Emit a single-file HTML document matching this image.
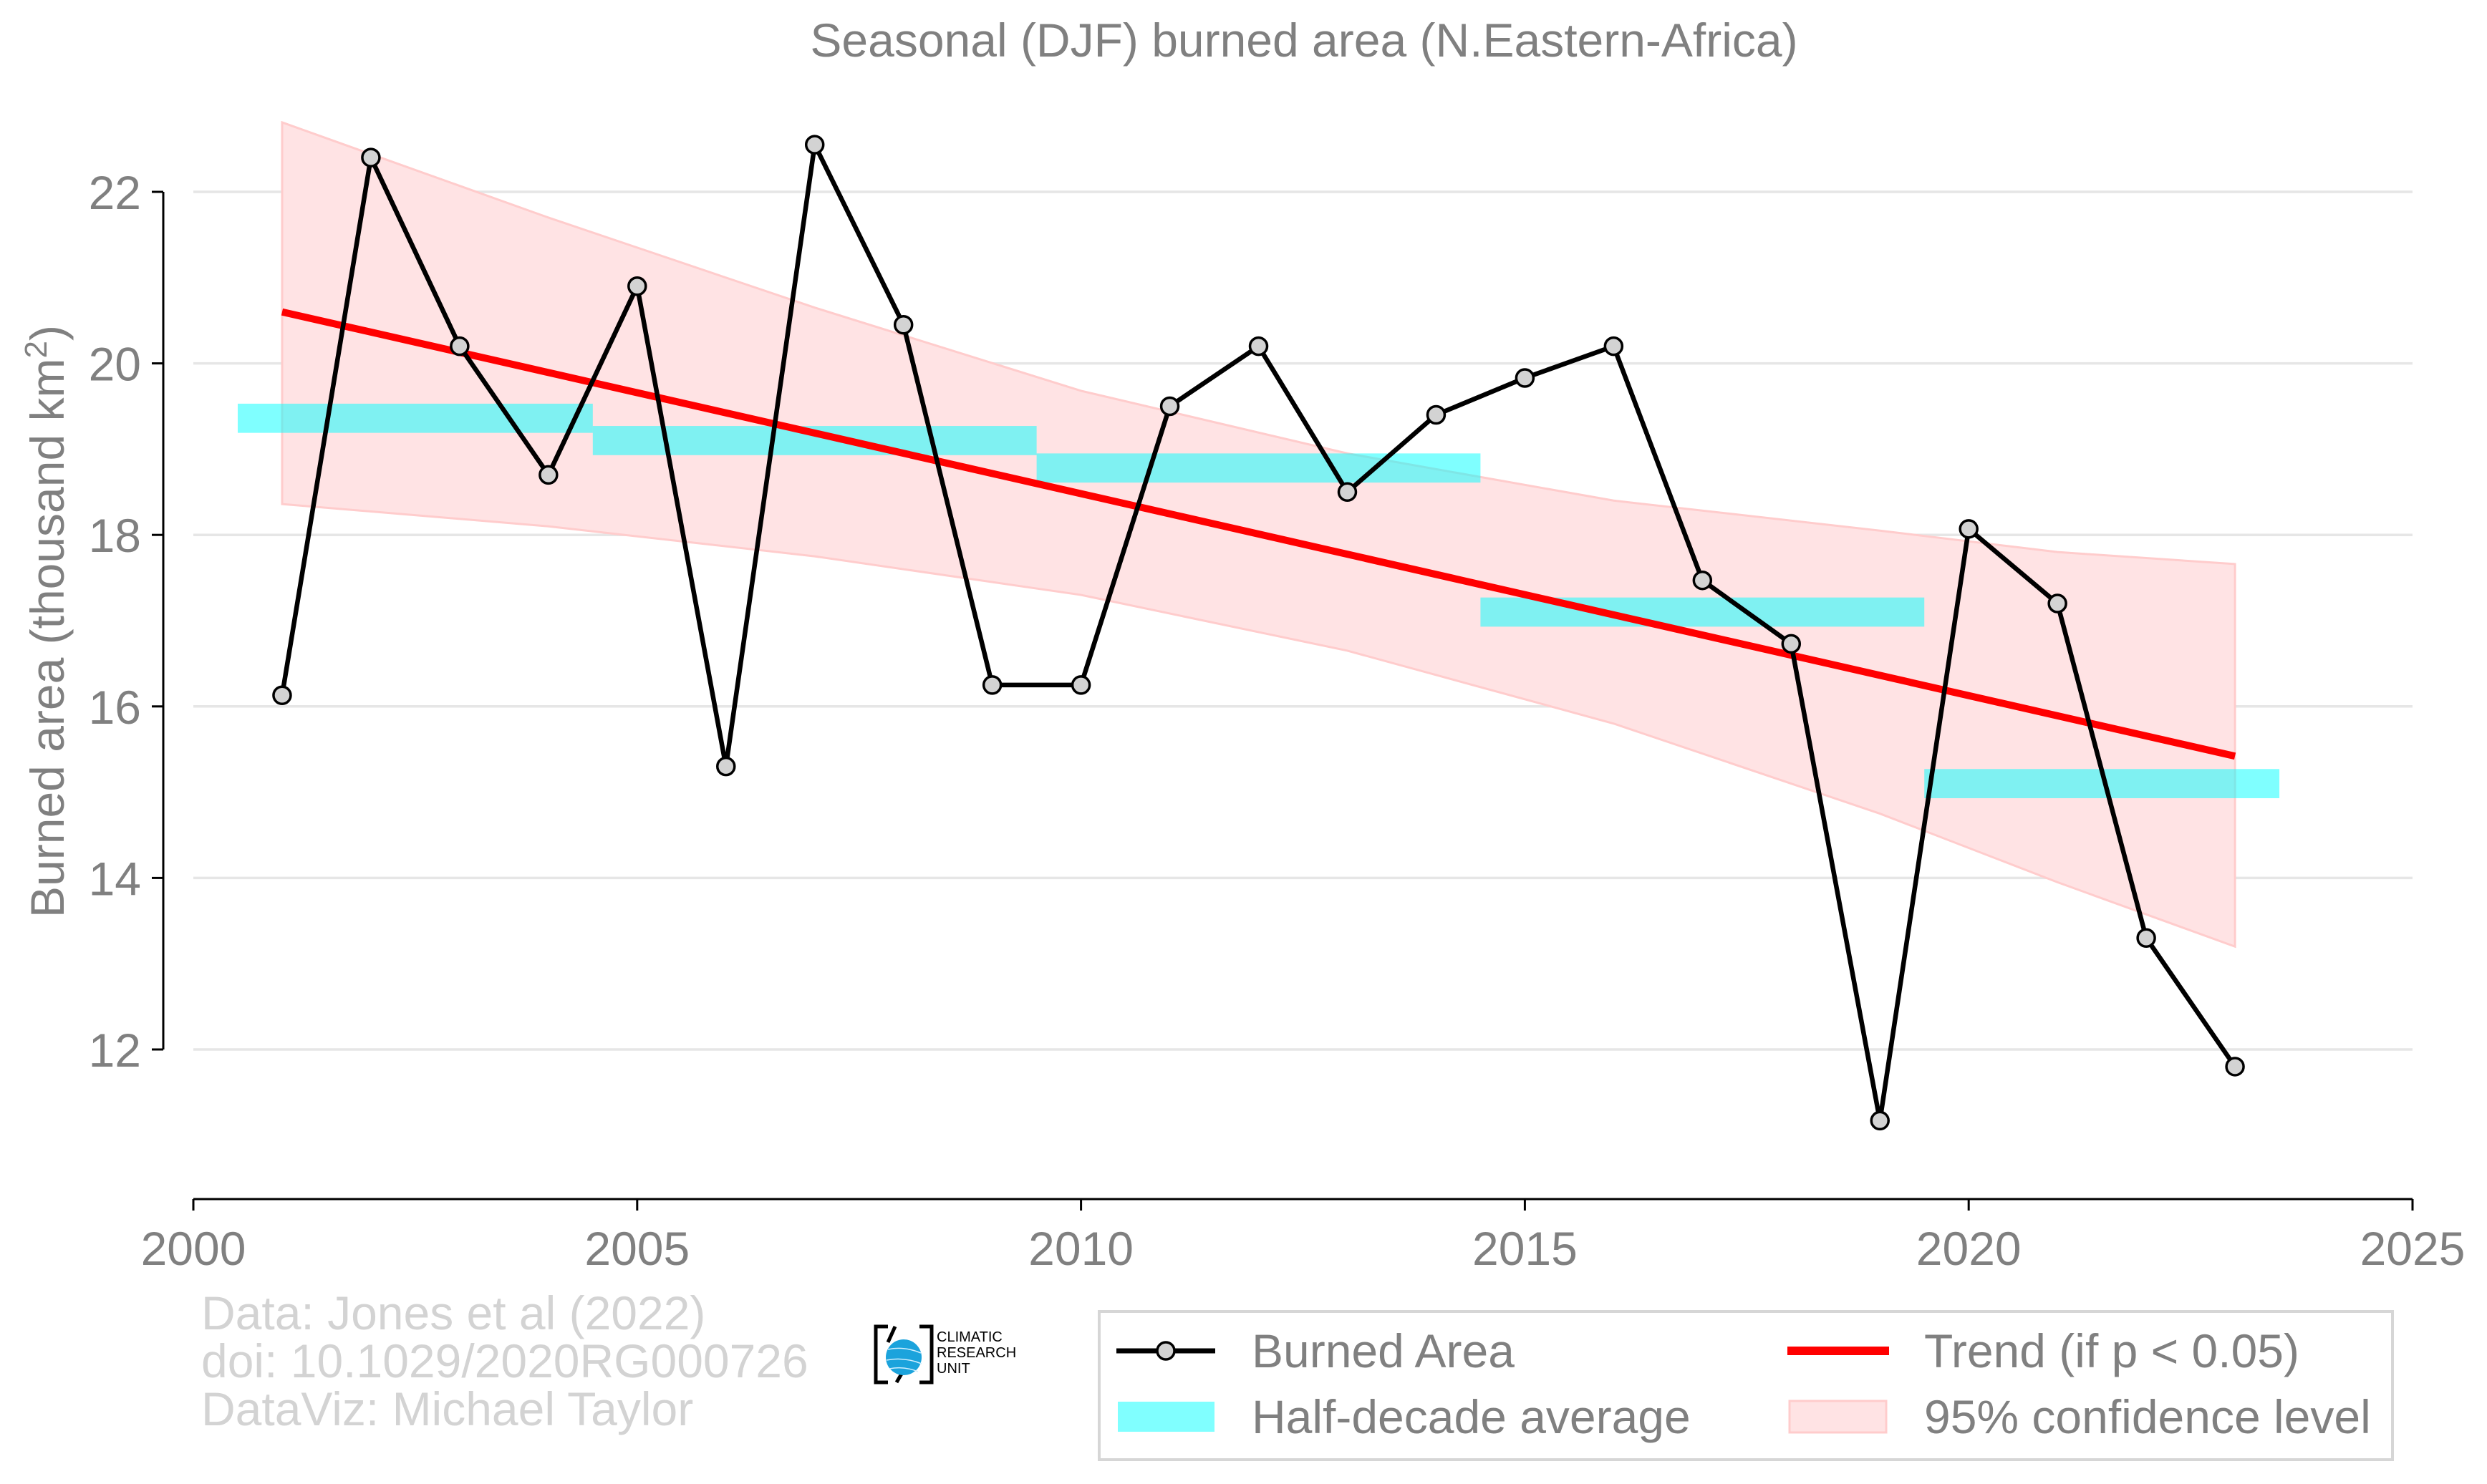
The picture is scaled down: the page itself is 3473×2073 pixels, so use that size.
<!DOCTYPE html>
<html><head><meta charset="utf-8"><style>
html,body{margin:0;padding:0;background:#fff;}
svg{display:block;font-family:"Liberation Sans",Arial,sans-serif;}
</style></head><body>
<svg id="chart" width="3473" height="2073" viewBox="0 0 3473 2073" xmlns="http://www.w3.org/2000/svg">
<rect width="3473" height="2073" fill="#fff"/>
<text x="1821" y="79" font-size="66" fill="#808080" text-anchor="middle">Seasonal (DJF) burned area (N.Eastern-Africa)</text>
<g id="grid"></g>
<g id="ci"></g>
<g id="hd"></g>
<g id="trend"></g>
<g id="series"></g>
<g id="axes"></g>
<text transform="translate(89,868) rotate(-90)" font-size="66" fill="#808080" text-anchor="middle">Burned area (thousand km<tspan font-size="44" dy="-24">2</tspan><tspan dy="24">)</tspan></text>
<g font-size="66" fill="#d3d3d3">
<text x="281" y="1857">Data: Jones et al (2022)</text>
<text x="281" y="1924">doi: 10.1029/2020RG000726</text>
<text x="281" y="1991">DataViz: Michael Taylor</text>
</g>
<g>
<path d="M1240 1853 H1223 V1931 H1240 M1284 1853 H1301 V1931 H1284" fill="none" stroke="#000" stroke-width="5"/>
<line x1="1250" y1="1853" x2="1240" y2="1875" stroke="#000" stroke-width="5"/>
<line x1="1262" y1="1914" x2="1252" y2="1931" stroke="#000" stroke-width="5"/>
<circle cx="1262" cy="1896" r="25" fill="#1ba3dc"/>
<path d="M1240 1885 Q1262 1880 1286 1890 M1238 1900 Q1262 1895 1287 1905 M1242 1912 Q1262 1908 1282 1916" fill="none" stroke="#cfefff" stroke-width="1.5"/>
<text x="1308" y="1874" font-size="20" fill="#000">CLIMATIC</text>
<text x="1308" y="1896" font-size="20" fill="#000">RESEARCH</text>
<text x="1308" y="1918" font-size="20" fill="#000">UNIT</text>
</g>
<g>
<rect x="1535" y="1832" width="1806" height="207" fill="#fff" stroke="#d6d6d6" stroke-width="4"/>
<g>
<line x1="1559" y1="1887" x2="1697" y2="1887" stroke="#000" stroke-width="7"/>
<circle cx="1628" cy="1887" r="12" fill="#d3d3d3" stroke="#000" stroke-width="3.5"/>
<text x="1748" y="1910" font-size="66" fill="#808080">Burned Area</text>
</g>
<g>
<line x1="2496" y1="1887" x2="2638" y2="1887" stroke="#f00" stroke-width="12"/>
<text x="2687" y="1910" font-size="66" fill="#808080">Trend (if p &lt; 0.05)</text>
</g>
<g>
<rect x="1561" y="1958" width="135" height="42" fill="#80ffff"/>
<text x="1748" y="2002" font-size="66" fill="#808080">Half-decade average</text>
</g>
<g>
<rect x="2499" y="1957" width="135" height="44" fill="#ffe3e4" stroke="#ffcccc" stroke-width="3"/>
<text x="2687" y="2002" font-size="66" fill="#808080">95% confidence level</text>
</g>
</g>
</svg>
<script>
const years=[2001,2002,2003,2004,2005,2006,2007,2008,2009,2010,2011,2012,2013,2014,2015,2016,2017,2018,2019,2020,2021,2022,2023];
const burned=[16.13,22.4,20.2,18.7,20.9,15.3,22.55,20.45,16.25,16.25,19.5,20.2,18.5,19.4,19.83,20.2,17.47,16.73,11.17,18.07,17.2,13.3,11.8];
const hdStart=[2000.5,2004.5,2009.5,2014.5,2019.5];
const hdEnd=[2004.5,2009.5,2014.5,2019.5,2023.5];
const hdValue=[19.36,19.1,18.78,17.1,15.1];
const trendYears=[2001,2023];
const trendValues=[20.6,15.42];
const ciYears=[2001,2004,2007,2010,2013,2016,2019,2021,2023];
const ciUpper=[22.81,21.7,20.65,19.68,18.95,18.4,18.05,17.8,17.66];
const ciLower=[18.36,18.1,17.75,17.3,16.65,15.8,14.75,13.95,13.2];
const yTicks=[12,14,16,18,20,22];
const xTicks=[2000,2005,2010,2015,2020,2025];

const NS='http://www.w3.org/2000/svg';
const X=v=>270+(v-2000)*(3369-270)/25;
const Y=v=>268+(22-v)*(1466-268)/10;
function mk(tag,attrs,parent){const e=document.createElementNS(NS,tag);for(const k in attrs)e.setAttribute(k,attrs[k]);parent.appendChild(e);return e;}
const grid=document.getElementById('grid'),axes=document.getElementById('axes');
yTicks.forEach(t=>{
  const g=mk('line',{x1:270,x2:3369,y1:Y(t),y2:Y(t),stroke:'#e6e6e6','stroke-width':3.5},grid);
  
  
  const tk=mk('line',{x1:212,x2:228,y1:Y(t),y2:Y(t),stroke:'#000','stroke-width':3},axes);
  
  
  const lb=mk('text',{x:197,y:Y(t)+24,'font-size':66,fill:'#808080','text-anchor':'end'},axes);
  lb.textContent=t;
  
  
});
const ys=mk('line',{x1:228,x2:228,y1:Y(22),y2:Y(12),stroke:'#000','stroke-width':3},axes);


const xs=mk('line',{x1:270,x2:3369,y1:1675,y2:1675,stroke:'#000','stroke-width':3},axes);


xTicks.forEach(t=>{
  const tk=mk('line',{x1:X(t),x2:X(t),y1:1675,y2:1691,stroke:'#000','stroke-width':3},axes);
  
  
  const lb=mk('text',{x:X(t),y:1767,'font-size':66,fill:'#808080','text-anchor':'middle'},axes);
  lb.textContent=t;
  
  
});
let pts=ciYears.map((y,i)=>X(y)+','+Y(ciUpper[i]));
for(let i=ciYears.length-1;i>=0;i--)pts.push(X(ciYears[i])+','+Y(ciLower[i]));
const band=mk('polygon',{points:pts.join(' '),fill:'#ffe3e4',stroke:'#ffcccc','stroke-width':3},document.getElementById('ci'));


const hdG=document.getElementById('hd');
hdValue.forEach((v,i)=>{
  const r=mk('rect',{x:X(hdStart[i]),y:Y(v+0.17),width:X(hdEnd[i])-X(hdStart[i]),height:Y(v-0.17)-Y(v+0.17),fill:'#00ffff','fill-opacity':0.5},hdG);
  
  
});
const tl=mk('line',{x1:X(trendYears[0]),y1:Y(trendValues[0]),x2:X(trendYears[1]),y2:Y(trendValues[1]),stroke:'#f00','stroke-width':10},document.getElementById('trend'));


const sG=document.getElementById('series');
const pl=mk('polyline',{points:years.map((y,i)=>X(y)+','+Y(burned[i])).join(' '),fill:'none',stroke:'#000','stroke-width':6.5,'stroke-linejoin':'round'},sG);


years.forEach((y,i)=>{
  const c=mk('circle',{cx:X(y),cy:Y(burned[i]),r:12,fill:'#d3d3d3',stroke:'#000','stroke-width':3.5},sG);
  
  
});
</script>
</body></html>
